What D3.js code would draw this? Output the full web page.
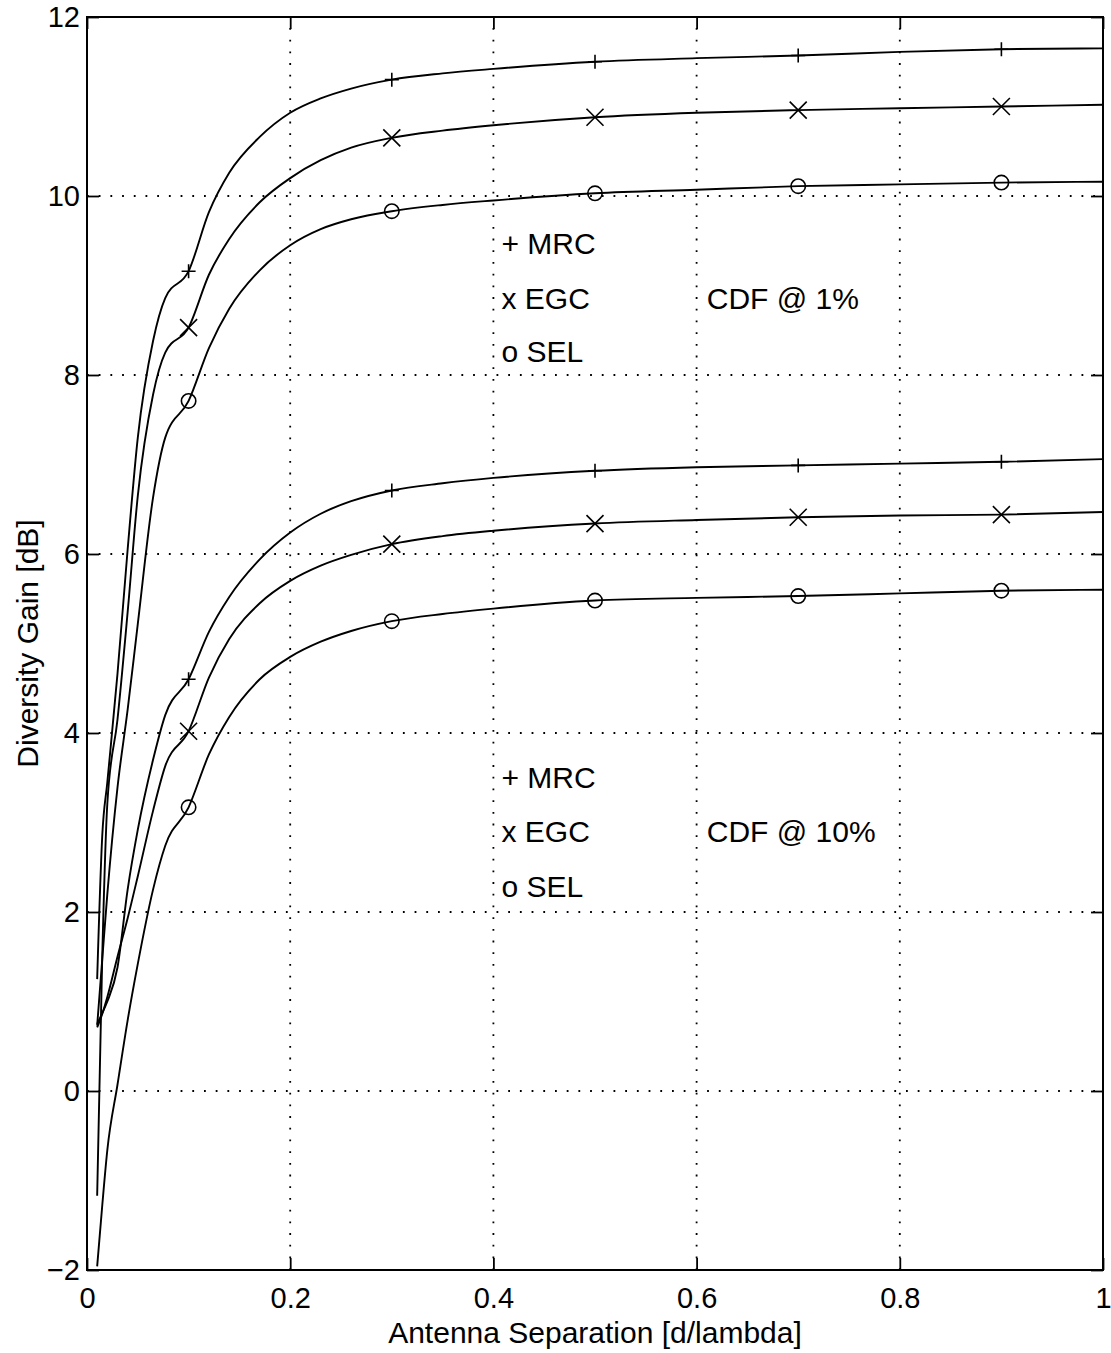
<!DOCTYPE html>
<html>
<head>
<meta charset="utf-8">
<script src="https://cdn.jsdelivr.net/npm/d3@7"></script>
<style>
  html, body { margin: 0; padding: 0; background: #fff; }
  svg { display: block; font-family: "Liberation Sans", Arial, Helvetica, sans-serif; }
</style>
</head>
<body>
<svg id="chart" width="1111" height="1353"></svg>
<script>
// Antenna separation samples (d/lambda) shared by all curves
const separation = [0.01, 0.015, 0.02, 0.03, 0.04, 0.05, 0.065, 0.077, 0.1, 0.12, 0.14, 0.17,
                    0.2, 0.23, 0.26, 0.3, 0.35, 0.4, 0.5, 0.6, 0.7, 0.8, 0.9, 1.0];

// Diversity gain [dB] at the 1% CDF level
const mrc1  = [1.25, 2.85, 3.45, 4.66, 6.05, 7.3, 8.38, 8.86, 9.16, 9.82, 10.26, 10.66,
               10.93, 11.09, 11.2, 11.3, 11.37, 11.42, 11.5, 11.54, 11.57, 11.61, 11.64, 11.65];
const egc1  = [-1.17, 1.5, 3.21, 4.15, 5.35, 6.65, 7.78, 8.25, 8.53, 9.12, 9.52, 9.93,
               10.2, 10.4, 10.54, 10.65, 10.73, 10.79, 10.88, 10.93, 10.96, 10.98, 11.0, 11.02];
const sel1  = [0.73, 1.47, 2.2, 3.39, 4.26, 5.22, 6.63, 7.3, 7.71, 8.3, 8.74, 9.17,
               9.45, 9.63, 9.74, 9.83, 9.9, 9.95, 10.03, 10.07, 10.11, 10.13, 10.15, 10.16];

// Diversity gain [dB] at the 10% CDF level
const mrc10 = [0.75, 0.87, 1.0, 1.38, 2.25, 2.92, 3.7, 4.2, 4.6, 5.13, 5.52, 5.94,
               6.24, 6.45, 6.59, 6.71, 6.79, 6.85, 6.93, 6.97, 6.99, 7.01, 7.03, 7.06];
const egc10 = [0.71, 0.86, 1.05, 1.5, 1.93, 2.4, 3.13, 3.63, 4.02, 4.62, 5.05, 5.45,
               5.7, 5.87, 5.99, 6.11, 6.2, 6.26, 6.34, 6.38, 6.41, 6.43, 6.44, 6.47];
const sel10 = [-1.96, -1.28, -0.66, 0.07, 0.79, 1.42, 2.25, 2.74, 3.17, 3.76, 4.18, 4.6,
               4.85, 5.02, 5.14, 5.25, 5.33, 5.39, 5.48, 5.51, 5.53, 5.56, 5.59, 5.6];

// Separations at which the combiner symbols are drawn
const markerSeparation = [0.1, 0.3, 0.5, 0.7, 0.9];

// Axis ticks
const xTicks = [0, 0.2, 0.4, 0.6, 0.8, 1];
const xTickLabels = ["0", "0.2", "0.4", "0.6", "0.8", "1"];
const yTicks = [-2, 0, 2, 4, 6, 8, 10, 12];
const yTickLabels = ["\u22122", "0", "2", "4", "6", "8", "10", "12"];

// Legend text blocks
const legendLines = ["+ MRC", "x EGC", "o SEL"];
const cdfLabels = ["CDF @ 1%", "CDF @ 10%"];

const series = [
  { values: mrc1,  symbol: "plus"   },
  { values: egc1,  symbol: "cross"  },
  { values: sel1,  symbol: "circle" },
  { values: mrc10, symbol: "plus"   },
  { values: egc10, symbol: "cross"  },
  { values: sel10, symbol: "circle" }
];

const svg = d3.select("#chart");
const plotLeft = 87, plotRight = 1103, plotTop = 17, plotBottom = 1270;

const x = d3.scaleLinear().domain([0, 1]).range([plotLeft, plotRight]);
const y = d3.scaleLinear().domain([-2, 12]).range([plotBottom, plotTop]);

// Dotted grid
const grid = svg.append("g")
  .attr("stroke", "#000")
  .attr("stroke-width", 1.8)
  .attr("stroke-dasharray", "1.8 9.9");
grid.selectAll("line.gx").data(xTicks.filter(d => d > 0 && d < 1)).join("line")
  .attr("class", "gx")
  .attr("x1", d => x(d)).attr("x2", d => x(d))
  .attr("y1", plotBottom).attr("y2", plotTop);
grid.selectAll("line.gy").data(yTicks.filter(d => d > -2 && d < 12)).join("line")
  .attr("class", "gy")
  .attr("y1", d => y(d)).attr("y2", d => y(d))
  .attr("x1", plotLeft).attr("x2", plotRight);

// Curves
const line = d3.line()
  .x((d, i) => x(separation[i]))
  .y(d => y(d))
  .curve(d3.curveMonotoneX);

svg.append("g").selectAll("path").data(series).join("path")
  .attr("d", s => line(s.values))
  .attr("fill", "none")
  .attr("stroke", "#000")
  .attr("stroke-width", 1.9)
  .attr("stroke-linejoin", "round");

// Combiner symbols
const symbolPath = {
  plus: "M-7,0H7M0,-7V7",
  cross: "M-8.5,-8.5L8.5,8.5M-8.5,8.5L8.5,-8.5",
  circle: "M7.2,0A7.2,7.2,0,1,1,-7.2,0A7.2,7.2,0,1,1,7.2,0Z"
};
const markerData = [];
series.forEach(s => {
  markerSeparation.forEach(m => {
    const i = separation.findIndex(v => Math.abs(v - m) < 1e-9);
    markerData.push({ sx: m, gy: s.values[i], symbol: s.symbol });
  });
});
svg.append("g").selectAll("path").data(markerData).join("path")
  .attr("transform", d => `translate(${x(d.sx)},${y(d.gy)})`)
  .attr("d", d => symbolPath[d.symbol])
  .attr("fill", "none")
  .attr("stroke", "#000")
  .attr("stroke-width", 1.6);

// Axes with inward ticks on all four sides
const fontSize = 29;
const xAxis = svg.append("g").attr("transform", `translate(0,${plotBottom})`)
  .call(d3.axisBottom(x).tickValues(xTicks).tickFormat((d, i) => xTickLabels[i])
    .tickSizeInner(-12).tickSizeOuter(0).tickPadding(17));
const yAxis = svg.append("g").attr("transform", `translate(${plotLeft},0)`)
  .call(d3.axisLeft(y).tickValues(yTicks).tickFormat((d, i) => yTickLabels[i])
    .tickSizeInner(-12).tickSizeOuter(0).tickPadding(7));
const topAxis = svg.append("g").attr("transform", `translate(0,${plotTop})`)
  .call(d3.axisTop(x).tickValues(xTicks).tickFormat("").tickSizeInner(-12).tickSizeOuter(0));
const rightAxis = svg.append("g").attr("transform", `translate(${plotRight},0)`)
  .call(d3.axisRight(y).tickValues(yTicks).tickFormat("").tickSizeInner(-12).tickSizeOuter(0));

[xAxis, yAxis, topAxis, rightAxis].forEach(g => {
  g.select(".domain").remove();
  g.selectAll(".tick line").attr("stroke", "#000").attr("stroke-width", 1.8);
  g.selectAll(".tick text").attr("fill", "#000")
    .style("font-family", '"Liberation Sans", Arial, Helvetica, sans-serif')
    .style("font-size", fontSize + "px");
});

// Axes box
svg.append("rect")
  .attr("x", plotLeft).attr("y", plotTop)
  .attr("width", plotRight - plotLeft).attr("height", plotBottom - plotTop)
  .attr("fill", "none").attr("stroke", "#000").attr("stroke-width", 2);

// Axis titles
svg.append("text")
  .attr("x", (plotLeft + plotRight) / 2).attr("y", 1343)
  .attr("text-anchor", "middle")
  .style("font-size", "30px")
  .text("Antenna Separation [d/lambda]");
svg.append("text")
  .attr("transform", `translate(38,${(plotTop + plotBottom) / 2}) rotate(-90)`)
  .attr("text-anchor", "middle")
  .style("font-size", "30px")
  .text("Diversity Gain [dB]");

// Legend blocks for the two CDF levels (baselines given in data units)
const blocks = [
  { baseGain: [9.35, 8.74, 8.15], cdf: cdfLabels[0] },
  { baseGain: [3.38, 2.78, 2.17], cdf: cdfLabels[1] }
];
blocks.forEach(b => {
  const g = svg.append("g").style("font-size", "30px");
  legendLines.forEach((t, i) => {
    g.append("text").attr("x", x(0.408)).attr("y", y(b.baseGain[i])).text(t);
  });
  g.append("text").attr("x", x(0.61)).attr("y", y(b.baseGain[1])).text(b.cdf);
});
</script>
</body>
</html>
